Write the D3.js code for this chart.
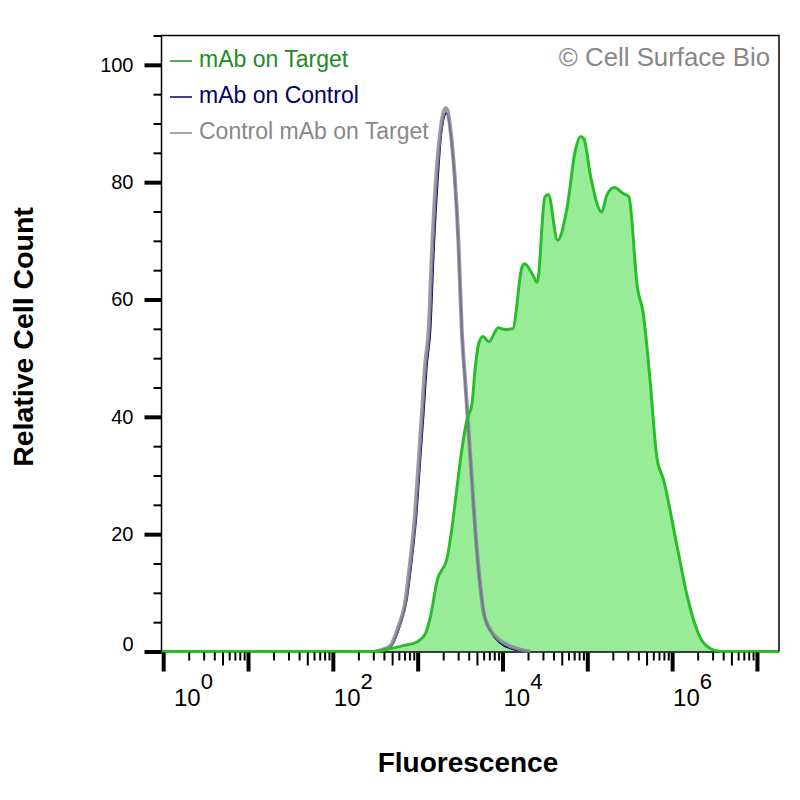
<!DOCTYPE html>
<html>
<head>
<meta charset="utf-8">
<script src="https://cdn.jsdelivr.net/npm/d3@7"></script>
<style>
  html, body { margin: 0; padding: 0; background: #fff; }
  svg { display: block; font-family: 'Liberation Sans', Arial, sans-serif; }
</style>
</head>
<body>
<svg id="chart" width="800" height="800"></svg>
<script>
'use strict';

const seriesNames = ['mAb on Target', 'mAb on Control', 'Control mAb on Target'];
const seriesColors = ['#228b22', '#000066', '#888888'];

// mAb on Target (filled histogram)
const targetFluor = [0.955, 302, 479, 676, 977, 1230, 1413, 1698, 2239, 2512, 2884, 3311, 3802, 4365,
  4786, 5248, 5888, 6918, 8913, 10715, 13183, 16982, 18197, 22387, 25704, 31623, 34674, 44668,
  57544, 72444, 83176, 91201, 109648, 147911, 169824, 208930, 263027, 309030, 389045, 457088,
  549541, 660693, 794328, 1148154, 1513561, 2137962, 2818383, 3715352, 1.82e7];
const targetCount = [0, 0, 0.5, 1.0, 1.6, 3.0, 5.9, 12.1, 16.1, 20.6, 27.5, 34.3, 39.4, 42.2,
  48.5, 52.5, 53.7, 52.8, 55.2, 54.9, 55.0, 65.5, 66.1, 64.4, 62.9, 77.5, 77.9, 70.1,
  75.5, 85.5, 87.8, 87.4, 80.9, 74.9, 77.8, 79.1, 78.1, 77.5, 62.1, 57.6,
  46.2, 33.1, 29.2, 17.8, 9.3, 2.4, 0.5, 0, 0];

// mAb on Control
const controlFluor = [331, 479, 617, 741, 851, 977, 1072, 1175, 1288, 1413, 1549, 1738, 1905, 2188,
  2399, 2754, 3020, 3311, 3631, 3981, 4365, 4786, 5248, 6166, 7413, 9333, 14125, 19953];
const controlCount = [0, 0.8, 4.4, 8.7, 15.5, 24.0, 32.6, 40.6, 49.1, 54.8, 68.4, 81.2, 88.5, 91.8,
  89.4, 79.8, 69.6, 54.8, 45.9, 37.4, 28.8, 20.3, 13.5, 6.1, 3.2, 1.5, 0.3, 0];

// Control mAb on Target
const isotypeFluor = [316, 363, 479, 589, 708, 813, 933, 1023, 1122, 1230, 1349, 1479, 1660, 1862,
  2138, 2239, 2399, 2754, 3020, 3311, 3631, 3981, 4365, 4786, 5248, 6026, 7244, 9333, 14791, 21380];
const isotypeCount = [0, 0.2, 1.0, 4.1, 8.1, 15.0, 23.5, 32.0, 40.5, 49.1, 54.8, 68.4, 81.2, 88.9,
  92.6, 92.3, 89.7, 80.3, 70.1, 54.8, 46.2, 37.7, 29.2, 20.6, 13.8, 6.4, 3.6, 1.9, 0.5, 0];

const yMajorTicks = [0, 20, 40, 60, 80, 100];
const yMinorTicks = d3.range(0, 106, 5);
const xMajorTicks = [1, 10, 100, 1e3, 1e4, 1e5, 1e6, 1e7];
const xLabelExponents = [0, 2, 4, 6];
const copyright = '\u00a9 Cell Surface Bio';

(function () {
  const svg = d3.select('#chart');

  const x = d3.scaleLog().domain([0.955, 1.82e7]).range([161.5, 779]);
  const y = d3.scaleLinear().domain([0, 105]).range([651.5, 35.5]);

  const zip = (xs, ys) => xs.map((v, i) => [v, ys[i]]);

  const line = d3.line()
    .x(d => x(d[0])).y(d => y(d[1]))
    .curve(d3.curveMonotoneX);

  const area = d3.area()
    .x(d => x(d[0])).y0(y(0)).y1(d => y(d[1]))
    .curve(d3.curveMonotoneX);

  const target = zip(targetFluor, targetCount);

  // histograms: fill, control lines, then the green outline on top
  svg.append('path').attr('d', area(target)).attr('fill', '#98ec98');

  // baseline under the curves
  svg.append('line')
    .attr('x1', x.range()[0]).attr('x2', x.range()[1])
    .attr('y1', y(0) + 0.5).attr('y2', y(0) + 0.5)
    .attr('stroke', '#000').attr('stroke-width', 1.5);

  svg.append('path').attr('d', line(zip(controlFluor, controlCount)))
    .attr('fill', 'none').attr('stroke', '#000060').attr('stroke-width', 2);

  svg.append('path').attr('d', line(zip(isotypeFluor, isotypeCount)))
    .attr('fill', 'none').attr('stroke', '#8a8a94').attr('stroke-width', 4)
    .attr('stroke-opacity', 0.85).attr('stroke-linejoin', 'round');

  svg.append('path').attr('d', line(target))
    .attr('fill', 'none').attr('stroke', '#2abd2a').attr('stroke-width', 3)
    .attr('stroke-linejoin', 'round');

  // frame: left axis, top and right borders
  const [x0, x1] = x.range();
  const [yb, yt] = y.range();
  svg.append('path')
    .attr('d', `M${x0},${yb}V${yt}H${x1}V${yb}`)
    .attr('fill', 'none').attr('stroke', '#000').attr('stroke-width', 1.5);

  // y axis
  const yMinor = svg.append('g').attr('transform', `translate(${x0},0)`)
    .call(d3.axisLeft(y).tickValues(yMinorTicks).tickSize(8).tickFormat(''));
  yMinor.select('.domain').remove();
  yMinor.selectAll('line').attr('stroke-width', 2);

  const yAxis = svg.append('g').attr('transform', `translate(${x0},0)`)
    .call(d3.axisLeft(y).tickValues(yMajorTicks).tickSize(17).tickPadding(11));
  yAxis.select('.domain').remove();
  yAxis.selectAll('line').attr('stroke-width', 4);
  yAxis.selectAll('text')
    .attr('font-size', 20).attr('fill', '#000')
    .attr('font-family', "'Liberation Sans', Arial, sans-serif")
    .attr('dy', d => d === 0 ? '-0.05em' : '0.32em');

  // x axis
  const minor = [];
  xMajorTicks.slice(0, -1).forEach(m => {
    for (let k = 2; k <= 9; k++) minor.push(m * k);
  });
  const xg = svg.append('g').attr('transform', `translate(0,${yb + 1})`);
  const xMinor = xg.append('g')
    .call(d3.axisBottom(x).tickValues(minor).tickSize(8).tickFormat(''));
  xMinor.select('.domain').remove();
  xMinor.selectAll('line')
    .attr('stroke-width', 2)
    .attr('y2', d => Math.round(d / Math.pow(10, Math.floor(Math.log10(d) + 1e-9))) === 5 ? 13 : 8);

  const xMajor = xg.append('g')
    .call(d3.axisBottom(x).tickValues(xMajorTicks).tickSize(19).tickFormat(''));
  xMajor.select('.domain').remove();
  xMajor.selectAll('line').attr('stroke-width', 4);

  const xl = svg.append('g').attr('fill', '#000');
  xLabelExponents.forEach(e => {
    const t = xl.append('text')
      .attr('x', Math.max(x(Math.pow(10, e)) + 1, 174))
      .attr('y', 706)
      .style('font-size', '24px');
    t.append('tspan').text('10');
    t.append('tspan').attr('dy', -17).style('font-size', '22px').text(e);
  });

  // axis titles
  svg.append('text')
    .attr('x', 468).attr('y', 772)
    .attr('text-anchor', 'middle')
    .attr('font-size', 28).attr('font-weight', 'bold')
    .text('Fluorescence');

  svg.append('text')
    .attr('transform', 'translate(33,337) rotate(-90)')
    .attr('text-anchor', 'middle')
    .attr('font-size', 28.5).attr('font-weight', 'bold')
    .text('Relative Cell Count');

  // legend
  const lg = svg.append('g');
  seriesNames.forEach((name, i) => {
    const by = 66.5 + i * 36;
    lg.append('line')
      .attr('x1', 170).attr('x2', 192)
      .attr('y1', by - 5.5).attr('y2', by - 5.5)
      .attr('stroke', seriesColors[i]).attr('stroke-width', 1.5);
    lg.append('text')
      .attr('x', 199).attr('y', by)
      .attr('font-size', 23)
      .attr('fill', seriesColors[i])
      .text(name);
  });

  svg.append('text')
    .attr('x', 770).attr('y', 66)
    .attr('text-anchor', 'end')
    .attr('font-size', 25.8)
    .attr('fill', '#888888')
    .text(copyright);
})();
</script>
</body>
</html>
